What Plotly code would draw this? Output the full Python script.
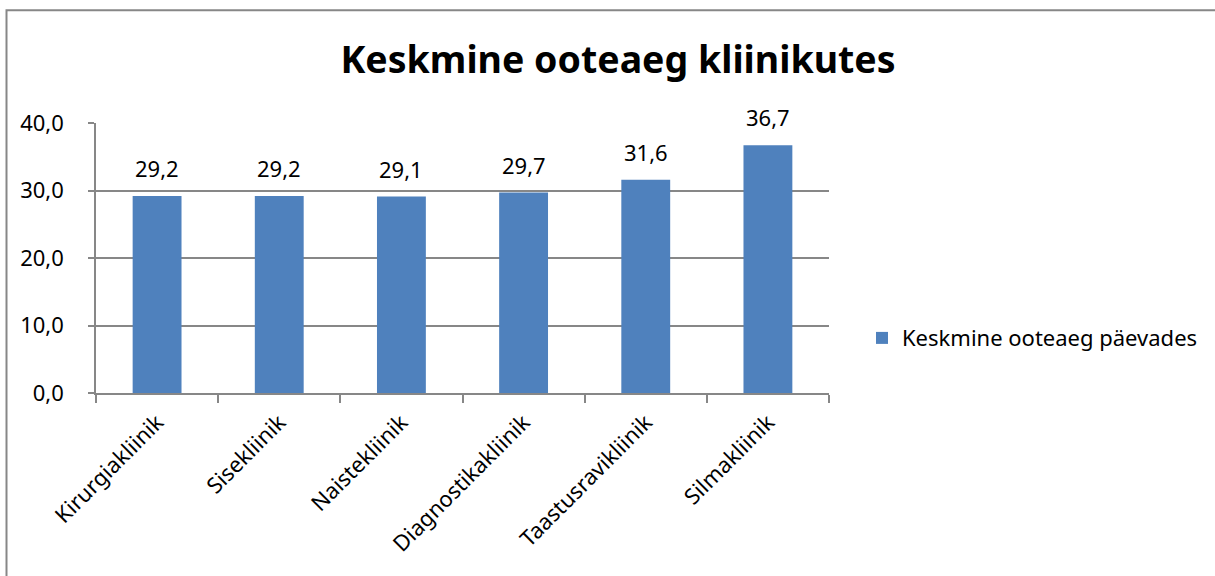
import plotly.graph_objects as go

categories = ["Kirurgiakliinik", "Sisekliinik", "Naistekliinik", "Diagnostikakliinik", "Taastusravikliinik", "Silmakliinik"]
values = [29.2, 29.2, 29.1, 29.7, 31.6, 36.7]
value_labels = ["29,2", "29,2", "29,1", "29,7", "31,6", "36,7"]
y_ticks = [0, 10, 20, 30, 40]
y_tick_labels = ["0,0", "10,0", "20,0", "30,0", "40,0"]
series_name = "Keskmine ooteaeg päevades"
title_text = "Keskmine ooteaeg kliinikutes"

FONT = "'Noto Sans', 'Open Sans', sans-serif"
L, R, T, B = 96, 829, 122.5, 393
W, H = 1215, 576
pw, ph = R - L, B - T
GRID = "#878787"


def px(x):
    return (x - L) / pw


def py(y):
    return (B - y) / ph


fig = go.Figure()
fig.add_trace(go.Bar(
    x=categories, y=values, name=series_name,
    marker=dict(color="#4F81BD", line=dict(width=0)),
))

for c, v, t in zip(categories, values, value_labels):
    fig.add_annotation(x=c, y=v, text=t, showarrow=False, yanchor="bottom",
                       yshift=11, font=dict(size=22, color="#000000", family=FONT))

fig.update_layout(
    width=W, height=H,
    margin=dict(l=L, r=W - R, t=T, b=H - B),
    paper_bgcolor="white", plot_bgcolor="white",
    bargap=0.6,
    title=dict(text="<b>" + title_text + "</b>", x=618 / W, xref="container", xanchor="center",
               y=1 - 60 / H, yanchor="middle", font=dict(size=37.5, color="#000000", family=FONT)),
    showlegend=True,
    legend=dict(x=px(862), y=py(338), xanchor="left", yanchor="middle",
                font=dict(size=22, color="#000000", family=FONT), bgcolor="rgba(0,0,0,0)"),
    font=dict(family=FONT),
)
fig.update_yaxes(range=[0, 40], tickvals=y_ticks, ticktext=y_tick_labels,
                 showgrid=True, gridcolor=GRID, gridwidth=1.5,
                 showline=True, linecolor=GRID, linewidth=1.5,
                 ticks="outside", ticklen=6, tickcolor=GRID, tickwidth=1.5,
                 ticklabelstandoff=20,
                 tickfont=dict(size=22, color="#000000", family=FONT), zeroline=False)
fig.update_xaxes(showline=True, linecolor=GRID, linewidth=1.5,
                 ticks="outside", ticklen=8, tickcolor=GRID, tickwidth=1.5, tickson="boundaries",
                 tickangle=-45, ticklabelstandoff=6,
                 tickfont=dict(size=22, color="#000000", family=FONT))

fig.add_shape(type="rect", xref="paper", yref="paper",
              x0=px(6.5), x1=px(1240), y0=py(600), y1=py(9.5),
              line=dict(color="#878787", width=2), fillcolor="rgba(0,0,0,0)", layer="below")

fig.write_html("out.html", config={"displayModeBar": False},
               post_script="document.body.style.margin='0';document.body.style.overflow='hidden';")
